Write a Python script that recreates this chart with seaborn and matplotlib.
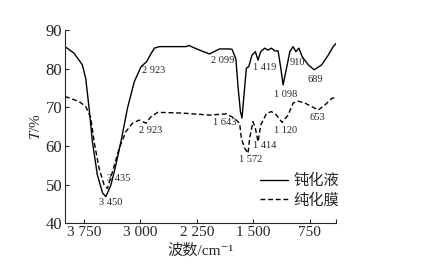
import matplotlib
matplotlib.use("Agg")
import pandas as pd
import seaborn as sns
from matplotlib import pyplot as plt

# solid: 钝化液 (passivation solution)
wn_solution = [4000, 3880, 3770, 3725, 3680, 3636, 3570, 3500, 3457, 3390, 3324, 3257, 3170, 3080,
               2990, 2916, 2880, 2813, 2747, 2390, 2356, 2213, 2080, 1947, 1813, 1780, 1730, 1700,
               1670, 1649, 1622, 1591, 1560, 1516, 1471, 1436, 1400, 1347, 1303, 1258, 1213, 1169,
               1133, 1103, 1067, 1013, 970, 933, 893, 849, 769, 689, 590, 503, 437, 400]
t_solution = [85.7, 84.0, 81.0, 77.5, 69.8, 61.1, 52.5, 47.8, 46.9, 49.9, 55.1, 61.1, 69.8, 76.6,
              80.5, 81.8, 83.1, 85.3, 85.7, 85.7, 86.0, 84.8, 83.8, 85.1, 85.1, 85.0, 82.5, 75.0,
              69.0, 67.2, 73.2, 80.1, 80.5, 83.5, 84.4, 82.2, 84.4, 85.3, 84.8, 85.3, 84.6, 84.6,
              80.1, 75.8, 79.2, 84.4, 85.7, 84.4, 85.3, 83.1, 81.0, 79.7, 81.0, 83.5, 85.7, 86.5]

# dashed: 纯化膜 (passivation film)
wn_film = [4000, 3813, 3724, 3657, 3613, 3547, 3480, 3436, 3369, 3280, 3191, 3103, 3013, 2924,
           2857, 2769, 2600, 2436, 2080, 1857, 1760, 1680, 1658, 1613, 1569, 1547, 1503, 1471,
           1436, 1400, 1324, 1258, 1191, 1116, 1036, 970, 903, 813, 724, 636, 547, 457, 400]
t_film = [72.8, 71.5, 70.2, 67.2, 61.1, 54.2, 49.9, 49.0, 53.4, 59.4, 63.7, 65.9, 66.7, 65.9,
          67.6, 68.7, 68.6, 68.5, 68.0, 68.3, 67.3, 65.9, 62.0, 59.4, 58.1, 62.0, 66.3, 64.6,
          61.1, 65.4, 68.4, 68.9, 68.0, 66.1, 68.0, 71.1, 71.6, 71.1, 70.2, 69.3, 70.6, 72.3, 72.6]

x_ticks = [3750, 3000, 2250, 1500, 750]
x_ticklabels = ["3 750", "3 000", "2 250", "1 500", "750"]
y_ticks = [40, 50, 60, 70, 80, 90]

# peak labels: text, x, y, alignment
peak_labels = [
    ("2 923", 2973, 79.4, "left"),
    ("2 923", 3013, 64.1, "left"),
    ("3 435", 3440, 51.7, "left"),
    ("3 450", 3393, 45.3, "center"),
    ("2 099", 1907, 82.0, "center"),
    ("1 643", 1880, 66.2, "center"),
    ("1 419", 1353, 80.2, "center"),
    ("910", 913, 81.7, "center"),
    ("689", 673, 77.3, "center"),
    ("1 098", 1073, 73.4, "center"),
    ("653", 647, 67.3, "center"),
    ("1 120", 1073, 63.9, "center"),
    ("1 414", 1347, 60.1, "center"),
    ("1 572", 1540, 56.4, "center"),
]

sns.set_style("ticks")
plt.rcParams["font.family"] = ["Liberation Serif", "Noto Sans CJK SC", "DejaVu Serif"]
plt.rcParams["mathtext.fontset"] = "stix"

fig = plt.figure(figsize=(4.38, 2.65), dpi=100)
ax = fig.add_axes([65 / 438, 1 - 223.3 / 265, 271 / 438, (223.3 - 30) / 265])

df_solution = pd.DataFrame({"wn": wn_solution, "T": t_solution})
df_film = pd.DataFrame({"wn": wn_film, "T": t_film})
sns.lineplot(data=df_solution, x="wn", y="T", ax=ax, color="black", lw=1.0, sort=False,
             label="钝化液")
sns.lineplot(data=df_film, x="wn", y="T", ax=ax, color="black", lw=1.0, sort=False,
             linestyle=(0, (3.5, 2)), label="纯化膜")

for txt, x, y, ha in peak_labels:
    ax.text(x, y, txt, fontsize=7.5, ha=ha, va="center")

ax.set_xlim(4000, 400)
ax.set_ylim(40, 90)
ax.set_xticks(x_ticks)
ax.set_xticklabels(x_ticklabels, fontsize=11)
ax.set_xticks([400], minor=True)
ax.set_yticks(y_ticks)
ax.set_yticklabels([str(v) for v in y_ticks], fontsize=12)
ax.tick_params(direction="in", length=3, width=0.8, pad=2)
ax.tick_params(which="minor", direction="in", length=3, width=0.8)
sns.despine(ax=ax)
for s in ["left", "bottom"]:
    ax.spines[s].set_linewidth(0.8)

ax.set_xlabel("波数/cm⁻¹", fontsize=11, labelpad=3)
ax.set_ylabel("$T$/%", fontsize=11, labelpad=2)

ax.legend(loc="upper left", bbox_to_anchor=(260 / 438, 1 - 174 / 265),
          bbox_transform=fig.transFigure, frameon=False, fontsize=11,
          handlelength=1.8, handletextpad=0.4, borderpad=0, borderaxespad=0,
          labelspacing=0.3)

fig.savefig("out.png", dpi=100)
